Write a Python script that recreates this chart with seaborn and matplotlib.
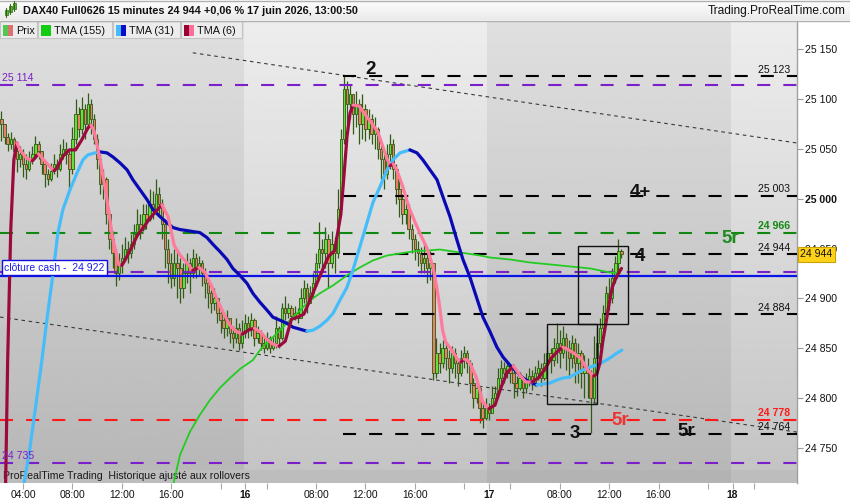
import numpy as np
import pandas as pd
import matplotlib
matplotlib.use("Agg")
import matplotlib.pyplot as plt
import matplotlib.transforms as mtransforms
from matplotlib.patches import Rectangle
import seaborn as sns

# ---------------- data ----------------
first_open = 25080
closes = [
25075, 25062, 25055, 25060, 25048, 25040, 25045, 25035, 25030, 25040,
25045, 25055, 25048, 25035, 25025, 25020, 25028, 25035, 25030, 25045,
25050, 25045, 25030, 25060, 25085, 25070, 25090, 25075, 25095, 25080,
25060, 25040, 25015, 25020, 24985, 24960, 24945, 24925, 24935, 24940,
24950, 24945, 24955, 24965, 24975, 24970, 24985, 24980, 24995, 24990,
25005, 24995, 24975, 24950, 24935, 24920, 24935, 24930, 24910, 24925,
24935, 24925, 24940, 24930, 24935, 24925, 24915, 24905, 24895, 24900,
24885, 24878, 24870, 24880, 24865, 24860, 24870, 24855, 24865, 24875,
24870, 24878, 24860, 24865, 24855, 24850, 24860, 24850, 24855, 24870,
24860, 24890, 24885, 24890, 24882, 24885, 24880, 24900, 24910, 24895,
24905, 24915, 24935, 24950, 24945, 24960, 24935, 24955, 24945, 24990,
25060, 25110, 25095, 25105, 25085, 25095, 25075, 25090, 25070, 25080,
25065, 25070, 25050, 25040, 25025, 25045, 25055, 25030, 25010, 25000,
24985, 24990, 24970, 24960, 24950, 24945, 24935, 24940, 24930, 24935,
24825, 24845, 24835, 24850, 24840, 24830, 24845, 24835, 24825, 24840,
24845, 24835, 24815, 24800, 24810, 24790, 24780, 24790, 24785, 24800,
24805, 24820, 24830, 24825, 24832, 24825, 24815, 24810, 24820, 24810,
24818, 24822, 24815, 24825, 24830, 24820, 24835, 24845, 24838, 24850,
24855, 24845, 24860, 24850, 24840, 24855, 24835, 24845, 24825, 24830,
24825, 24800, 24840, 24855, 24870, 24885, 24905, 24900, 24920, 24935,
24948, 24944]
highs = [
25088, 25075, 25066, 25067, 25062, 25055, 25053, 25050, 25045, 25048,
25053, 25063, 25058, 25048, 25038, 25030, 25036, 25045, 25040, 25055,
25060, 25057, 25048, 25072, 25100, 25092, 25102, 25095, 25106, 25100,
25085, 25065, 25045, 25030, 25022, 24990, 24968, 24950, 24945, 24955,
24962, 24958, 24965, 24975, 24990, 24985, 24995, 24995, 25010, 25008,
25020, 25012, 25000, 24980, 24960, 24945, 24950, 24950, 24940, 24935,
24945, 24940, 24950, 24945, 24942, 24938, 24930, 24920, 24908, 24910,
24900, 24890, 24885, 24888, 24880, 24872, 24880, 24875, 24878, 24884,
24882, 24885, 24880, 24872, 24868, 24862, 24866, 24862, 24862, 24882,
24872, 24895, 24902, 24895, 24893, 24892, 24890, 24910, 24918, 24915,
24912, 24925, 24945, 24977, 24960, 24972, 24965, 24968, 24962, 25010,
25070, 25123, 25118, 25115, 25105, 25108, 25100, 25105, 25095, 25090,
25085, 25082, 25072, 25055, 25045, 25055, 25065, 25060, 25035, 25020,
25005, 25000, 24995, 24975, 24965, 24958, 24952, 24955, 24945, 24948,
24935, 24860, 24855, 24858, 24855, 24848, 24852, 24850, 24840, 24848,
24852, 24848, 24838, 24820, 24818, 24812, 24795, 24800, 24795, 24812,
24812, 24830, 24838, 24836, 24838, 24832, 24828, 24822, 24826, 24822,
24825, 24830, 24828, 24832, 24838, 24835, 24845, 24852, 24850, 24860,
24875, 24868, 24872, 24865, 24858, 24863, 24860, 24855, 24848, 24843,
24840, 24828, 24862, 24870, 24880, 24893, 24912, 24920, 24930, 24942,
24960, 24950]
lows = [
25058, 25055, 25048, 25050, 25035, 25027, 25032, 25022, 25020, 25028,
25035, 25040, 25040, 25025, 25012, 25014, 25018, 25025, 25022, 25028,
25040, 25035, 25010, 25025, 25055, 25062, 25065, 25060, 25070, 25065,
25055, 25030, 25005, 25000, 24975, 24950, 24930, 24912, 24918, 24925,
24938, 24935, 24940, 24950, 24962, 24960, 24968, 24970, 24978, 24980,
24985, 24985, 24960, 24930, 24915, 24910, 24912, 24900, 24895, 24900,
24915, 24905, 24920, 24920, 24922, 24912, 24900, 24890, 24885, 24888,
24875, 24865, 24860, 24862, 24855, 24850, 24855, 24848, 24850, 24860,
24860, 24862, 24852, 24855, 24848, 24845, 24848, 24845, 24848, 24850,
24850, 24858, 24878, 24880, 24878, 24878, 24875, 24880, 24895, 24885,
24895, 24900, 24912, 24930, 24925, 24930, 24910, 24930, 24925, 24940,
24990, 25055, 25070, 25080, 25065, 25072, 25055, 25060, 25058, 25060,
25055, 25050, 25040, 25020, 25010, 25020, 25030, 25020, 24995, 24982,
24975, 24975, 24960, 24945, 24938, 24932, 24925, 24925, 24915, 24918,
24818, 24820, 24825, 24830, 24828, 24815, 24825, 24820, 24812, 24822,
24830, 24825, 24805, 24790, 24795, 24775, 24770, 24778, 24778, 24785,
24792, 24800, 24815, 24815, 24820, 24815, 24800, 24802, 24808, 24800,
24805, 24812, 24808, 24812, 24818, 24812, 24818, 24830, 24825, 24832,
24835, 24830, 24840, 24828, 24820, 24830, 24815, 24815, 24810, 24800,
24800, 24765, 24795, 24830, 24850, 24865, 24880, 24888, 24895, 24915,
24925, 24940]

tma6_bar = [1, 2, 3, 4, 5, 6, 8, 10, 12, 14, 16, 17, 18, 20, 22, 24, 26, 28, 29, 30,
            32, 34, 36, 38, 39, 40, 42, 44, 46, 48, 50, 52, 54, 56, 58, 60, 62, 64, 66, 68,
            70, 72, 74, 76, 78, 80, 82, 84, 86, 88, 90, 92, 94, 96, 98, 100, 102, 104, 106, 108,
            110, 111, 112, 113, 114, 116, 118, 120, 122, 124, 125, 126, 127, 128, 130, 132, 134, 136, 138, 140,
            141, 142, 143, 144, 146, 148, 149, 150, 151, 152, 154, 156, 158, 160, 162, 164, 166, 168, 170, 172,
            174, 176, 178, 180, 182, 184, 186, 188, 190, 192, 193, 194, 195, 196, 197, 198, 199, 200, 201]
tma6_val = [24650, 24838, 24969, 25039, 25056, 25049, 25041, 25038, 25045, 25038, 25031, 25028, 25031, 25043, 25049, 25049, 25059, 25071, 25074, 25068,
            25039, 25003, 24961, 24934, 24933, 24938, 24950, 24963, 24971, 24980, 24987, 24994, 24982, 24953, 24943, 24936, 24928, 24931, 24926, 24913,
            24898, 24885, 24873, 24867, 24864, 24868, 24870, 24866, 24859, 24854, 24852, 24857, 24879, 24881, 24884, 24898, 24913, 24928, 24942, 24948,
            24984, 25022, 25062, 25086, 25094, 25093, 25084, 25076, 25067, 25049, 25040, 25033, 25035, 25030, 25013, 24992, 24977, 24963, 24950, 24930,
            24913, 24893, 24868, 24856, 24848, 24838, 24836, 24839, 24838, 24834, 24820, 24796, 24789, 24793, 24811, 24826, 24832, 24823, 24816, 24816,
            24820, 24828, 24839, 24846, 24851, 24848, 24844, 24839, 24828, 24822, 24824, 24835, 24858, 24876, 24895, 24911, 24919, 24925, 24930]

tma31_bar = [6.5, 9.0, 11.0, 13.1, 14.7, 16.4, 18.3, 19.9, 22.2, 24.5, 26.4, 28.0, 30.3, 31.9, 34.2, 36.1, 38.4, 40.7, 42.6, 44.9,
             47.2, 49.1, 51.4, 53.6, 55.6, 57.9, 60.1, 62.1, 64.3, 66.6, 68.6, 70.8, 73.1, 75.0, 77.3, 79.6, 81.5, 83.8, 86.1, 88.0,
             90.3, 92.5, 94.5, 96.8, 99.0, 101.0, 103.2, 105.5, 107.5, 109.7, 112.0, 113.9, 116.2, 118.5, 120.4, 122.7, 125.0, 126.9, 129.2, 132.4,
             134.7, 136.6, 138.9, 141.2, 143.1, 145.4, 147.6, 149.6, 151.9, 154.1, 156.1, 158.3, 160.6, 162.6, 164.8, 167.1, 169.0, 171.3, 173.6, 175.5,
             177.8, 180.1, 182.0, 184.3, 186.5, 188.5, 190.8, 193.0, 195.0, 197.2, 199.5, 201.1]
tma31_val = [24700, 24745, 24790, 24838, 24878, 24918, 24966, 24989, 25009, 25026, 25039, 25044, 25046, 25047, 25046, 25042, 25036, 25029, 25019, 25009,
             24999, 24989, 24982, 24976, 24971, 24969, 24968, 24967, 24966, 24961, 24954, 24947, 24939, 24930, 24923, 24915, 24905, 24896, 24888, 24881,
             24878, 24875, 24871, 24869, 24867, 24868, 24872, 24878, 24885, 24898, 24911, 24928, 24952, 24976, 24996, 25012, 25029, 25039, 25046, 25049,
             25046, 25039, 25029, 25019, 25002, 24982, 24959, 24939, 24921, 24900, 24881, 24867, 24851, 24841, 24833, 24826, 24820, 24816, 24813, 24814,
             24815, 24818, 24820, 24821, 24825, 24828, 24831, 24833, 24836, 24840, 24845, 24848]

tma155_bar = [55.3, 57.9, 61.1, 64.3, 67.6, 70.8, 74.1, 77.3, 81.5, 83.8, 86.1, 88.0, 90.3, 92.5, 94.5, 96.8, 99.0, 101.0, 103.2, 107.5,
              112.0, 116.2, 120.4, 125.0, 129.2, 133.4, 137.9, 142.1, 146.4, 150.9, 155.1, 158.3, 164.8, 171.3, 177.8, 184.3, 190.8, 197.2, 200.5]
tma155_val = [24708, 24743, 24766, 24783, 24798, 24810, 24820, 24829, 24838, 24848, 24856, 24861, 24868, 24875, 24881, 24888, 24895, 24900, 24905, 24913,
              24923, 24931, 24938, 24943, 24945, 24947, 24948, 24949, 24947, 24945, 24943, 24941, 24939, 24936, 24934, 24932, 24930, 24926, 24925]

# horizontal levels
full_levels = [25114, 24966, 24926, 24778, 24735]
full_level_colors = ["#7a1fc9", "#118811", "#7a1fc9", "#ff1a1a", "#7a1fc9"]
black_levels = [25123, 25003, 24944, 24884, 24764]
black_level_start = 110.7
cash_close = 24922
last_price = 24944
right_labels = [25123, 25003, 24966, 24944, 24884, 24778, 24764]
right_label_colors = ["#111111", "#111111", "#118811", "#111111", "#111111", "#ff1a1a", "#111111"]
left_labels = [25114, 24735]

# trend channel (bar, price)
upper_trend = [(62.0, 25146.5), (257.9, 25055.9)]
lower_trend = [(-0.49, 24881.2), (257.9, 24765.7)]

# drawings
marks = [("2", 119.8, 25130, "#111111"), ("4+", 207.0, 25006, "#111111"),
         ("5r", 236.2, 24960, "#1f8a1f"), ("4", 207.0, 24942, "#111111"),
         ("5r", 200.5, 24777, "#ee3333"), ("5r", 221.9, 24766, "#111111"),
         ("3", 185.9, 24764, "#111111")]
boxes = [(176.9, 192.9, 24794, 24874), (186.9, 203.0, 24874, 24953)]

yticks = [24750, 24800, 24850, 24900, 24950, 25000, 25050, 25100, 25150]
tick_bars = [7, 23, 39, 55, 71, 79, 86, 102, 118, 134, 150, 158, 165, 181, 197, 213, 229, 237, 244]
tick_labels = ["04:00", "08:00", "12:00", "16:00", "", "16", "", "08:00", "12:00", "16:00", "",
               "17", "", "08:00", "12:00", "16:00", "", "18", ""]
day_bounds = [78.5, 157.5, 236.5]

# ---------------- figure ----------------
sns.set_theme(style="white")
plt.rcParams['font.family'] = ['Liberation Sans', 'DejaVu Sans']
plt.rcParams['lines.scale_dashes'] = False

W, H = 850, 500
fig = plt.figure(figsize=(W / 100, H / 100), dpi=100)
fig.patch.set_facecolor("white")

X0, X1 = -0.486, 257.9
Y0, Y1 = 24714.6, 25178.4
ax = fig.add_axes([0, (H - 483) / H, 797 / W, (483 - 21) / H])

def fmt(v):
    return f"{v:,}".replace(",", " ")

# background day bands with vertical gradient
edges = [X0] + day_bounds + [X1]
shades = [(0.875, 0.715), (0.93, 0.765), (0.875, 0.715), (0.93, 0.765)]
for (a, b), (t, bt) in zip(zip(edges[:-1], edges[1:]), shades):
    grad = np.linspace(t, bt, 256).reshape(-1, 1)
    ax.imshow(grad, extent=[a, b, Y0, Y1], origin="upper", aspect="auto",
              cmap="gray", vmin=0, vmax=1, zorder=0, interpolation="bilinear")

# bottom info strip
band_h = 13 / 0.996
for (a, b), c in zip(zip(edges[:-1], edges[1:]), ["#bdbdbd", "#bdbdbd", "#b3b3b3", "#bdbdbd"]):
    ax.add_patch(Rectangle((a, Y0), b - a, band_h, facecolor=c, edgecolor="none", zorder=1))
ax.text(0.004, Y0 + band_h / 2, "ProRealTime Trading  Historique ajusté aux rollovers",
        transform=mtransforms.blended_transform_factory(ax.transAxes, ax.transData),
        fontsize=7.6, color="#1a1a1a", va="center", ha="left", zorder=1.5)

# candles
n = len(closes)
opens = [first_open] + closes[:-1]
df = pd.DataFrame({"bar": np.arange(n), "open": opens, "high": highs, "low": lows, "close": closes})
df["high"] = df[["high", "open", "close"]].max(axis=1)
df["low"] = df[["low", "open", "close"]].min(axis=1)
up = df["close"] >= df["open"]
edge = "#2f5c12"
ax.vlines(df["bar"], df["low"], df["high"], color=edge, lw=0.9, zorder=3)
body_bottom = df[["open", "close"]].min(axis=1)
body_h = (df["close"] - df["open"]).abs().clip(lower=1.0)
ax.bar(df["bar"], body_h, bottom=body_bottom, width=0.78,
       color=np.where(up, "#63e03a", "#e8806a"), edgecolor=edge, linewidth=0.6, zorder=4)

# horizontal levels
dash = (0, (9.4, 9.4))
for v, c in zip(full_levels, full_level_colors):
    ax.plot([X0, X1], [v, v], color=c, lw=1.5, linestyle=dash, zorder=4.5)
for v in black_levels:
    ax.plot([black_level_start, X1], [v, v], color="#000000", lw=1.5, linestyle=(0, (9.4, 9.4)), zorder=4.5)
ax.plot([X0, X1], [cash_close, cash_close], color="#0a14e6", lw=1.6, zorder=4.6)

# trend channel
for tl in (upper_trend, lower_trend):
    ax.plot([tl[0][0], tl[1][0]], [tl[0][1], tl[1][1]], color="#3a3a3a", lw=0.8,
            linestyle=(0, (2.6, 2.6)), zorder=4.4)

# moving averages, colored by slope
def slope_line(xs, ys, up_color, down_color, lw, z):
    xs = np.asarray(xs, float)
    ys = np.asarray(ys, float)
    d = np.sign(np.diff(ys))
    for i in range(1, len(d)):
        if d[i] == 0:
            d[i] = d[i - 1]
    start = 0
    for i in range(1, len(d) + 1):
        if i == len(d) or d[i] != d[start]:
            seg = slice(start, i + 1)
            sns.lineplot(x=xs[seg], y=ys[seg], color=up_color if d[start] >= 0 else down_color,
                         lw=lw, ax=ax, estimator=None, sort=False, legend=False,
                         solid_capstyle="round", solid_joinstyle="round", zorder=z)
            start = i

sns.lineplot(x=tma155_bar, y=tma155_val, color="#22cc22", lw=1.3, ax=ax,
             estimator=None, sort=False, legend=False, zorder=5)
slope_line(tma31_bar, tma31_val, "#45bdfb", "#0a0ab4", 2.3, 5.5)
slope_line(tma6_bar, tma6_val, "#9a0a3c", "#ff7a9c", 2.3, 6)

# drawings
for x0b, x1b, y0b, y1b in boxes:
    ax.add_patch(Rectangle((x0b, y0b), x1b - x0b, y1b - y0b, fill=False,
                           edgecolor="#111111", lw=1.0, zorder=7))
for txt, xb, yb, c in marks:
    ax.text(xb, yb, txt, color=c, fontsize=13.5, fontweight="bold", ha="center",
            va="center", zorder=8)

# level labels
bt = mtransforms.blended_transform_factory(ax.transAxes, ax.transData)
for v, c in zip(right_labels, right_label_colors):
    w = "bold" if c in ("#ff1a1a", "#118811") else "normal"
    ax.annotate(fmt(v), xy=(1, v), xycoords=bt, xytext=(-5, 1), textcoords="offset points",
                ha="right", va="bottom", fontsize=7.6, color=c, fontweight=w, zorder=8)
for v in left_labels:
    ax.annotate(fmt(v), xy=(0, v), xycoords=bt, xytext=(1.5, 1.5), textcoords="offset points",
                ha="left", va="bottom", fontsize=7.6, color="#7a1fc9", zorder=8)
ax.annotate(f"clôture cash -  {fmt(cash_close)}", xy=(0, cash_close), xycoords=bt,
            xytext=(3, 6.3), textcoords="offset points", ha="left", va="center",
            fontsize=7.5, color="#1c1cf0", zorder=9,
            bbox=dict(boxstyle="square,pad=0.22", fc="white", ec="#1010e0", lw=1.0))
ax.annotate(fmt(last_price), xy=(1, last_price), xycoords=bt, xytext=(2.5, 0),
            textcoords="offset points", ha="left", va="center", fontsize=7.6,
            color="#111111", annotation_clip=False, zorder=20,
            bbox=dict(boxstyle="square,pad=0.25", fc="#ffd21a", ec="#c9a400", lw=0.8))

# axes styling
ax.set_xlim(X0, X1)
ax.set_ylim(Y0, Y1)
ax.yaxis.tick_right()
ax.set_yticks(yticks)
ax.set_yticklabels([fmt(v) for v in yticks])
for lbl, v in zip(ax.get_yticklabels(), yticks):
    if v % 1000 == 0:
        lbl.set_fontweight("bold")
        lbl.set_fontsize(8.2)
ax.tick_params(axis="y", right=True, left=False, length=4, width=0.8, color="#9a9a9a",
               labelsize=7.6, pad=2, labelcolor="#111111")
ax.set_xticks(tick_bars)
ax.set_xticklabels(tick_labels)
for lbl in ax.get_xticklabels():
    if len(lbl.get_text()) == 2:
        lbl.set_fontweight("bold")
        lbl.set_fontsize(8.8)
ax.tick_params(axis="x", bottom=True, length=4, width=0.8, color="#a8a8a8",
               labelsize=7.4, pad=1.0, labelcolor="#111111")
for s in ["top", "left", "bottom"]:
    ax.spines[s].set_visible(False)
ax.spines["right"].set_color("#a0a0a0")
ax.spines["right"].set_linewidth(1.0)
ax.set_xlabel("")
ax.set_ylabel("")
ax.grid(False)

# ---------------- header & legend (UI overlay) ----------------
ui = fig.add_axes([0, 0, 1, 1], zorder=10)
ui.set_xlim(0, W)
ui.set_ylim(H, 0)
ui.axis("off")
ui.patch.set_alpha(0)
hdr = np.linspace(1.0, 0.915, 64).reshape(-1, 1)
ui.imshow(hdr, extent=[0, W, 20.5, 0], origin="upper", aspect="auto", cmap="gray",
          vmin=0, vmax=1, interpolation="bilinear")
ui.set_xlim(0, W)
ui.set_ylim(H, 0)
ui.plot([0, W], [0.5, 0.5], color="#b0b0b0", lw=1)
ui.plot([0, W], [20.5, 20.5], color="#b0b0b0", lw=1)
# icon
for cx, yb, yt, c in [(6.5, 15, 10, "#55bb33"), (10.5, 12, 6, "#55bb33"), (14.5, 9, 3, "#55bb33")]:
    ui.plot([cx, cx], [yb + 2, yt - 2], color="#2f6a12", lw=0.8)
    ui.add_patch(Rectangle((cx - 1.3, yt), 2.6, yb - yt, fc=c, ec="#2f6a12", lw=0.5))
ui.text(23, 11, "DAX40 Full0626 15 minutes 24 944 +0,06 % 17 juin 2026, 13:00:50",
        fontsize=7.8, fontweight="bold", color="#111111", ha="left", va="center")
ui.text(846, 11, "Trading.ProRealTime.com", fontsize=8.6, color="#111111",
        ha="right", va="center")

legend_items = [("Prix", 0, 37, ("#4fc94f", "#e06f6f")),
                ("TMA (155)", 38, 112, ("#11cc11", "#11cc11")),
                ("TMA (31)", 113, 180, ("#44bbff", "#0a0acc")),
                ("TMA (6)", 181, 242, ("#990033", "#ff6e96"))]
for name, xa, xb, (c1, c2) in legend_items:
    ui.add_patch(Rectangle((xa, 21), xb - xa, 17, fc="#ececec", ec="#c4c4c4", lw=0.8))
    ui.add_patch(Rectangle((xa + 3, 25), 5, 11, fc=c1, ec="none"))
    ui.add_patch(Rectangle((xa + 8, 25), 5, 11, fc=c2, ec="none"))
    ui.text(xa + 16, 30.5, name, fontsize=7.8, color="#111111", ha="left", va="center")

fig.savefig("out.png", dpi=100, facecolor="white")
